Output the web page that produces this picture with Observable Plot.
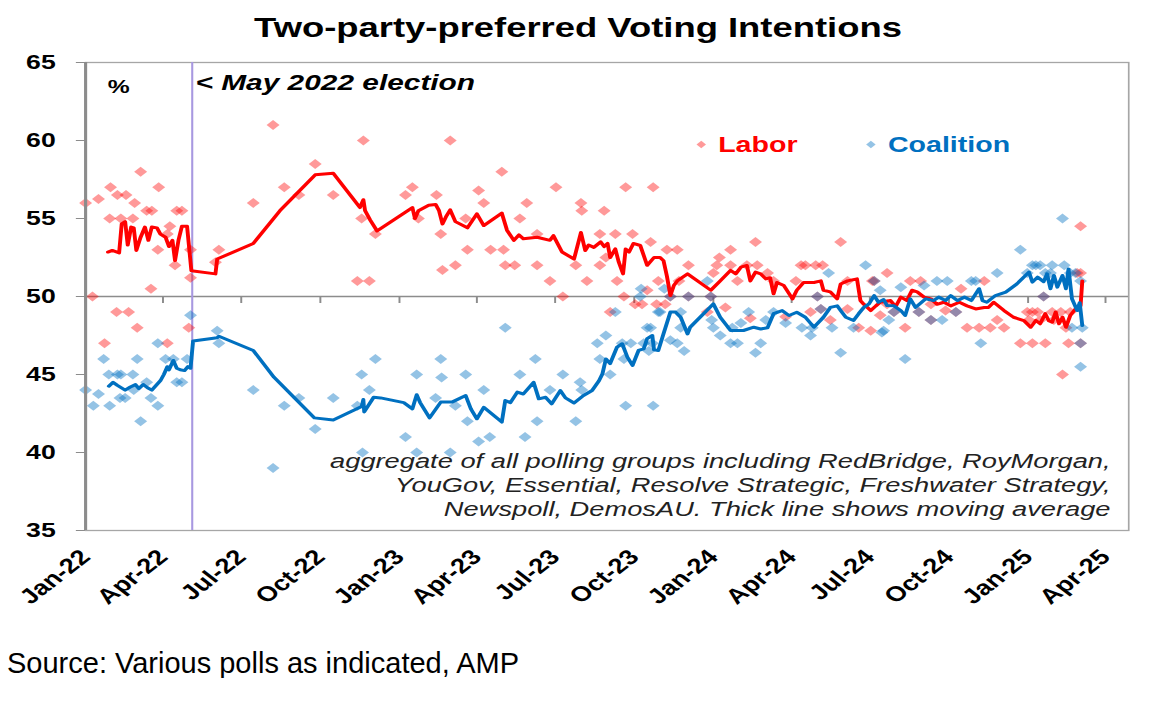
<!DOCTYPE html>
<html>
<head>
<meta charset="utf-8">
<script src="https://cdn.jsdelivr.net/npm/d3@7"></script>
<script src="https://cdn.jsdelivr.net/npm/@observablehq/plot@0.6"></script>
<style>
  body { margin: 0; background: #fff; font-family: "Liberation Sans", Arial, sans-serif; }
  #chart { width: 1156px; }
  #title { height: 40px; padding-top: 6px; line-height: 44px; text-align: center; font-weight: bold; font-size: 28px; transform: scaleX(1.3); }
  #source { font-size: 29px; line-height: 30px; padding-left: 7px; }
</style>
</head>
<body>
<div id="chart">
  <div id="title">Two-party-preferred Voting Intentions</div>
  <div id="plot"></div>
  <div id="source">Source: Various polls as indicated, AMP</div>
</div>
<script>
// axis
const xStart = "2022-01-01";
const xEnd = "2025-04-28";
const xTicks = ["2022-01-01", "2022-04-01", "2022-07-01", "2022-10-01", "2023-01-01", "2023-04-01", "2023-07-01",
  "2023-10-01", "2024-01-01", "2024-04-01", "2024-07-01", "2024-10-01", "2025-01-01", "2025-04-01"];
const yTicks = [35, 40, 45, 50, 55, 60, 65];
const electionDate = "2022-05-05";
const legendNames = ["Labor", "Coalition"];
const noteLines = [
  "aggregate of all polling groups including RedBridge, RoyMorgan,",
  "YouGov, Essential, Resolve Strategic, Freshwater Strategy,",
  "Newspoll, DemosAU. Thick line shows moving average"
];

// moving averages
const laborTrend = [
  ["2022-01-27", 52.85], ["2022-02-01", 52.95], ["2022-02-09", 52.8], ["2022-02-12", 54.65], ["2022-02-16", 54.8],
  ["2022-02-19", 53.3], ["2022-02-23", 54.45], ["2022-02-26", 54.4], ["2022-03-01", 52.95], ["2022-03-06", 53.8],
  ["2022-03-11", 54.45], ["2022-03-15", 53.6], ["2022-03-19", 54.45], ["2022-03-25", 54.4], ["2022-03-29", 54.0],
  ["2022-04-04", 53.8], ["2022-04-08", 53.2], ["2022-04-12", 53.6], ["2022-04-15", 52.3], ["2022-04-19", 53.6],
  ["2022-04-23", 54.5], ["2022-04-29", 54.5], ["2022-05-04", 51.65], ["2022-06-01", 51.45], ["2022-06-03", 52.4],
  ["2022-07-15", 53.4], ["2022-08-15", 55.5], ["2022-09-25", 57.8], ["2022-10-16", 57.9], ["2022-11-16", 55.7],
  ["2022-11-20", 56.2], ["2022-11-22", 55.5], ["2022-11-28", 54.9], ["2022-12-06", 54.2], ["2023-01-16", 55.7],
  ["2023-01-19", 55.0], ["2023-01-23", 55.5], ["2023-02-04", 55.85], ["2023-02-12", 55.9], ["2023-02-16", 55.5],
  ["2023-02-20", 54.65], ["2023-02-24", 55.1], ["2023-03-01", 55.55], ["2023-03-07", 54.8], ["2023-03-21", 54.4],
  ["2023-04-01", 55.3], ["2023-04-09", 54.55], ["2023-04-30", 55.35], ["2023-05-06", 54.25], ["2023-05-14", 53.6],
  ["2023-05-20", 53.95], ["2023-05-25", 53.7], ["2023-06-10", 53.8], ["2023-06-25", 53.6], ["2023-06-29", 53.9],
  ["2023-07-09", 52.85], ["2023-07-23", 52.4], ["2023-07-31", 54.1], ["2023-08-05", 52.95], ["2023-08-09", 53.3],
  ["2023-08-15", 53.15], ["2023-08-23", 53.5], ["2023-08-27", 53.2], ["2023-08-31", 53.4], ["2023-09-03", 52.5],
  ["2023-09-09", 53.05], ["2023-09-13", 52.2], ["2023-09-18", 51.45], ["2023-09-21", 53.05], ["2023-09-25", 52.85],
  ["2023-09-30", 53.4], ["2023-10-08", 53.27], ["2023-10-16", 52.0], ["2023-10-24", 52.5], ["2023-10-31", 52.5],
  ["2023-11-04", 52.3], ["2023-11-08", 51.3], ["2023-11-12", 50.06], ["2023-11-16", 50.7], ["2023-11-20", 51.0],
  ["2023-12-02", 51.45], ["2023-12-29", 50.4], ["2024-01-09", 51.0], ["2024-01-21", 51.67], ["2024-01-27", 51.45],
  ["2024-02-02", 51.88], ["2024-02-09", 51.99], ["2024-02-13", 51.0], ["2024-02-19", 51.56], ["2024-02-25", 51.45],
  ["2024-03-02", 51.13], ["2024-03-07", 51.2], ["2024-03-11", 50.17], ["2024-03-15", 50.9], ["2024-03-23", 50.7],
  ["2024-04-02", 49.85], ["2024-04-07", 50.4], ["2024-04-15", 50.9], ["2024-04-27", 50.9], ["2024-05-05", 51.0],
  ["2024-05-08", 50.4], ["2024-05-16", 50.3], ["2024-05-24", 49.85], ["2024-05-28", 50.8], ["2024-06-05", 51.0],
  ["2024-06-16", 51.13], ["2024-06-20", 49.74], ["2024-06-24", 49.5], ["2024-07-02", 49.1], ["2024-07-08", 49.4],
  ["2024-07-13", 49.63], ["2024-07-25", 49.74], ["2024-07-31", 49.36], ["2024-08-06", 49.96], ["2024-08-13", 49.74],
  ["2024-08-19", 50.4], ["2024-08-25", 50.3], ["2024-09-02", 49.96], ["2024-09-10", 49.85], ["2024-09-17", 49.5],
  ["2024-09-25", 49.63], ["2024-10-03", 49.4], ["2024-10-13", 49.63], ["2024-10-22", 49.4], ["2024-11-01", 49.2],
  ["2024-11-11", 49.3], ["2024-11-16", 49.3], ["2024-11-22", 49.63], ["2024-12-04", 49.1], ["2024-12-15", 48.67],
  ["2024-12-27", 48.46], ["2025-01-04", 48.03], ["2025-01-10", 48.46], ["2025-01-15", 48.25], ["2025-01-21", 48.9],
  ["2025-01-25", 48.45], ["2025-01-29", 48.35], ["2025-02-02", 49.0], ["2025-02-06", 48.25], ["2025-02-10", 48.67],
  ["2025-02-14", 48.03], ["2025-02-19", 48.78], ["2025-02-25", 49.2], ["2025-03-03", 49.4], ["2025-03-05", 51.0]
];
const coalitionTrend = [
  ["2022-01-28", 44.25], ["2022-02-02", 44.5], ["2022-02-07", 44.3], ["2022-02-16", 44.0], ["2022-02-22", 44.2],
  ["2022-02-28", 44.35], ["2022-03-04", 44.1], ["2022-03-09", 44.36], ["2022-03-14", 44.15], ["2022-03-19", 44.0],
  ["2022-03-29", 44.6], ["2022-04-02", 45.0], ["2022-04-06", 45.5], ["2022-04-08", 45.3], ["2022-04-13", 45.9],
  ["2022-04-17", 45.4], ["2022-04-21", 45.3], ["2022-04-26", 45.25], ["2022-04-30", 45.5], ["2022-05-03", 45.4],
  ["2022-05-06", 47.15], ["2022-06-03", 47.35], ["2022-06-05", 47.45], ["2022-07-15", 46.54], ["2022-08-08", 44.83],
  ["2022-09-24", 42.22], ["2022-10-16", 42.08], ["2022-11-18", 42.95], ["2022-11-20", 43.4], ["2022-11-21", 42.6],
  ["2022-12-02", 43.54], ["2022-12-10", 43.5], ["2023-01-06", 43.2], ["2023-01-16", 42.8], ["2023-01-21", 43.7],
  ["2023-01-25", 43.2], ["2023-02-05", 42.22], ["2023-02-18", 43.23], ["2023-03-03", 43.23], ["2023-03-19", 43.65],
  ["2023-03-25", 42.8], ["2023-04-01", 42.16], ["2023-04-09", 42.9], ["2023-04-30", 41.95], ["2023-05-04", 43.33],
  ["2023-05-10", 43.2], ["2023-05-18", 43.87], ["2023-05-25", 43.75], ["2023-06-06", 44.5], ["2023-06-12", 43.44],
  ["2023-06-20", 43.54], ["2023-06-27", 43.12], ["2023-07-07", 43.97], ["2023-07-13", 43.5], ["2023-07-23", 43.17],
  ["2023-08-03", 43.65], ["2023-08-13", 43.97], ["2023-08-21", 44.6], ["2023-08-25", 45.04], ["2023-08-29", 46.0],
  ["2023-09-03", 45.7], ["2023-09-11", 46.76], ["2023-09-17", 46.97], ["2023-09-23", 46.11], ["2023-09-29", 45.58],
  ["2023-10-06", 46.54], ["2023-10-12", 46.65], ["2023-10-16", 47.3], ["2023-10-22", 47.5], ["2023-10-24", 46.58],
  ["2023-10-29", 46.54], ["2023-11-04", 47.6], ["2023-11-12", 49.0], ["2023-11-18", 49.0], ["2023-11-24", 48.67],
  ["2023-12-02", 47.6], ["2023-12-05", 48.03], ["2024-01-01", 49.53], ["2024-01-09", 48.67], ["2024-01-21", 47.82],
  ["2024-02-05", 47.82], ["2024-02-17", 48.03], ["2024-02-25", 47.92], ["2024-03-04", 48.0], ["2024-03-11", 48.9],
  ["2024-03-21", 49.1], ["2024-03-29", 48.78], ["2024-04-07", 48.99], ["2024-04-17", 48.67], ["2024-04-27", 48.03],
  ["2024-05-08", 48.67], ["2024-05-16", 49.3], ["2024-05-24", 49.4], ["2024-05-28", 49.1], ["2024-06-03", 48.67],
  ["2024-06-12", 48.46], ["2024-06-18", 48.9], ["2024-06-24", 49.3], ["2024-06-30", 49.53], ["2024-07-06", 50.06],
  ["2024-07-11", 49.63], ["2024-07-17", 49.8], ["2024-07-21", 49.42], ["2024-07-29", 49.4], ["2024-08-06", 49.1],
  ["2024-08-11", 48.78], ["2024-08-17", 49.85], ["2024-08-23", 49.3], ["2024-09-04", 49.85], ["2024-09-13", 49.74],
  ["2024-09-19", 49.96], ["2024-09-27", 49.74], ["2024-10-03", 50.06], ["2024-10-11", 49.74], ["2024-10-19", 49.96],
  ["2024-10-27", 49.74], ["2024-11-05", 50.5], ["2024-11-09", 49.74], ["2024-11-14", 49.63], ["2024-11-24", 50.06],
  ["2024-12-06", 50.28], ["2024-12-19", 50.81], ["2025-01-02", 51.56], ["2025-01-06", 50.92], ["2025-01-12", 51.24],
  ["2025-01-19", 50.95], ["2025-01-23", 51.45], ["2025-01-27", 50.5], ["2025-01-31", 51.35], ["2025-02-04", 50.6],
  ["2025-02-10", 51.35], ["2025-02-14", 50.5], ["2025-02-17", 51.77], ["2025-02-21", 49.85], ["2025-02-27", 49.1],
  ["2025-03-02", 49.6], ["2025-03-05", 48.14]
];

// individual polls
const laborPolls = [
  ["2022-01-01", 56], ["2022-01-09", 50], ["2022-01-16", 56.25], ["2022-01-23", 47], ["2022-01-29", 55],
  ["2022-01-30", 57], ["2022-02-06", 49], ["2022-02-07", 56.5], ["2022-02-11", 55], ["2022-02-17", 56.5],
  ["2022-02-20", 49], ["2022-02-25", 55], ["2022-02-27", 56], ["2022-03-02", 48], ["2022-03-06", 58],
  ["2022-03-13", 55.5], ["2022-03-18", 50.5], ["2022-03-19", 55.5], ["2022-03-26", 53], ["2022-03-27", 57],
  ["2022-04-06", 54], ["2022-04-06", 47], ["2022-04-09", 54.5], ["2022-04-15", 52], ["2022-04-17", 55.5],
  ["2022-04-23", 55.5], ["2022-05-01", 48], ["2022-05-03", 53], ["2022-05-03", 51.2], ["2022-06-01", 52.2],
  ["2022-06-05", 53], ["2022-07-15", 56], ["2022-08-07", 61], ["2022-08-20", 57], ["2022-09-06", 56.5],
  ["2022-09-25", 58.5], ["2022-10-16", 56.5], ["2022-11-13", 51], ["2022-11-18", 55], ["2022-11-20", 60],
  ["2022-11-27", 51], ["2022-12-04", 54], ["2023-01-08", 56.5], ["2023-01-16", 57], ["2023-01-23", 55],
  ["2023-02-13", 56.5], ["2023-02-18", 54], ["2023-02-20", 51.7], ["2023-03-01", 60], ["2023-03-07", 52],
  ["2023-03-19", 55], ["2023-03-21", 53], ["2023-04-03", 56.8], ["2023-04-09", 56], ["2023-04-17", 53],
  ["2023-04-30", 58], ["2023-05-02", 53], ["2023-05-04", 52], ["2023-05-15", 52], ["2023-05-21", 55],
  ["2023-05-29", 56], ["2023-06-10", 54], ["2023-06-10", 52], ["2023-06-25", 51], ["2023-07-02", 57],
  ["2023-07-10", 50], ["2023-07-25", 52], ["2023-07-31", 56], ["2023-08-01", 55.5], ["2023-08-07", 51],
  ["2023-08-22", 54], ["2023-08-22", 52], ["2023-08-27", 55.5], ["2023-08-29", 52.5], ["2023-09-03", 49],
  ["2023-09-09", 54], ["2023-09-11", 51], ["2023-09-19", 50], ["2023-09-21", 57], ["2023-09-29", 54],
  ["2023-10-02", 49.5], ["2023-10-10", 49.5], ["2023-10-16", 50.4], ["2023-10-20", 53.5], ["2023-10-23", 57],
  ["2023-10-27", 49.5], ["2023-10-29", 51], ["2023-11-06", 49.5], ["2023-11-08", 53], ["2023-11-12", 50],
  ["2023-11-20", 53], ["2023-11-22", 51], ["2023-12-03", 52], ["2023-12-03", 50], ["2023-12-25", 49],
  ["2023-12-29", 50], ["2024-01-01", 51.5], ["2024-01-05", 52], ["2024-01-08", 52.5], ["2024-01-15", 49.3],
  ["2024-01-21", 53], ["2024-01-21", 52], ["2024-01-29", 51], ["2024-02-09", 52], ["2024-02-13", 48.6],
  ["2024-02-19", 53.5], ["2024-02-21", 52], ["2024-03-04", 51.5], ["2024-03-11", 51], ["2024-03-25", 48.7],
  ["2024-04-06", 51], ["2024-04-12", 52], ["2024-04-17", 52], ["2024-04-23", 49], ["2024-04-29", 52],
  ["2024-05-01", 50], ["2024-05-05", 49.2], ["2024-05-07", 52], ["2024-05-16", 48.5], ["2024-05-28", 53.5],
  ["2024-06-05", 51], ["2024-06-05", 49.2], ["2024-06-18", 48], ["2024-07-02", 47.8], ["2024-07-04", 51],
  ["2024-07-06", 51], ["2024-07-13", 48.8], ["2024-07-21", 51.5], ["2024-07-21", 49.5], ["2024-07-29", 49],
  ["2024-08-11", 48], ["2024-08-17", 51], ["2024-08-27", 49], ["2024-08-29", 51], ["2024-09-10", 49.5],
  ["2024-09-10", 48.5], ["2024-09-27", 49.1], ["2024-10-09", 49], ["2024-10-15", 50.5], ["2024-10-22", 48],
  ["2024-11-05", 48], ["2024-11-11", 51], ["2024-11-18", 48], ["2024-11-26", 48.5], ["2024-12-04", 48],
  ["2024-12-23", 47], ["2024-12-31", 49], ["2025-01-02", 48.5], ["2025-01-06", 49], ["2025-01-06", 47],
  ["2025-01-12", 49], ["2025-01-15", 48.5], ["2025-01-19", 50], ["2025-01-21", 47], ["2025-01-29", 49],
  ["2025-01-31", 48.5], ["2025-02-08", 49], ["2025-02-10", 45], ["2025-02-14", 48], ["2025-02-17", 47],
  ["2025-02-19", 49], ["2025-02-27", 51.5], ["2025-03-03", 54.5], ["2025-03-03", 51.5], ["2025-03-03", 47]
];
const coalitionPolls = [
  ["2022-01-01", 44], ["2022-01-10", 43], ["2022-01-16", 43.75], ["2022-01-22", 46], ["2022-01-28", 45],
  ["2022-01-29", 43], ["2022-02-07", 45], ["2022-02-10", 43.5], ["2022-02-11", 45], ["2022-02-16", 43.5],
  ["2022-02-25", 45], ["2022-02-26", 44], ["2022-03-02", 46], ["2022-03-06", 42], ["2022-03-13", 44.5],
  ["2022-03-18", 43.5], ["2022-03-26", 47], ["2022-03-26", 43], ["2022-04-04", 46], ["2022-04-13", 46],
  ["2022-04-17", 44.5], ["2022-04-23", 44.5], ["2022-04-29", 46], ["2022-05-03", 48.8], ["2022-06-03", 47.8],
  ["2022-06-05", 47], ["2022-07-15", 44], ["2022-08-07", 39], ["2022-08-20", 43], ["2022-09-06", 43.5],
  ["2022-09-25", 41.5], ["2022-10-16", 43.5], ["2022-11-13", 43], ["2022-11-18", 45], ["2022-11-19", 40],
  ["2022-11-27", 44], ["2022-12-04", 46], ["2023-01-08", 41], ["2023-01-21", 45], ["2023-01-21", 40],
  ["2023-02-12", 43.5], ["2023-02-18", 46], ["2023-02-19", 44.8], ["2023-03-01", 40], ["2023-03-07", 43],
  ["2023-03-19", 45], ["2023-03-21", 42], ["2023-04-03", 40.7], ["2023-04-09", 44], ["2023-04-16", 41],
  ["2023-05-04", 48], ["2023-05-21", 45], ["2023-05-27", 41], ["2023-06-08", 46], ["2023-06-10", 42],
  ["2023-06-25", 44], ["2023-07-10", 45], ["2023-07-25", 42], ["2023-07-30", 44.5], ["2023-08-01", 44],
  ["2023-08-19", 47], ["2023-08-22", 46], ["2023-08-29", 47.5], ["2023-09-03", 45], ["2023-09-09", 49],
  ["2023-09-17", 47], ["2023-09-19", 46], ["2023-09-21", 43], ["2023-09-27", 47], ["2023-10-08", 50],
  ["2023-10-09", 50.5], ["2023-10-12", 47], ["2023-10-16", 48], ["2023-10-18", 46.5], ["2023-10-20", 48],
  ["2023-10-22", 47], ["2023-10-23", 43], ["2023-10-29", 49], ["2023-10-31", 49], ["2023-11-05", 50.5],
  ["2023-11-12", 50], ["2023-11-12", 47.2], ["2023-11-20", 47], ["2023-11-24", 49], ["2023-11-24", 48],
  ["2023-11-28", 46.5], ["2023-12-03", 50], ["2023-12-25", 51], ["2023-12-29", 50], ["2023-12-30", 48.5],
  ["2024-01-01", 48], ["2024-01-09", 47.5], ["2024-01-21", 47], ["2024-01-23", 48], ["2024-01-29", 47],
  ["2024-02-02", 48.3], ["2024-02-11", 49], ["2024-02-19", 46.4], ["2024-02-25", 47], ["2024-03-02", 48.5],
  ["2024-03-11", 49], ["2024-03-25", 48.3], ["2024-04-13", 48], ["2024-04-23", 47.5], ["2024-04-25", 48],
  ["2024-05-01", 50], ["2024-05-05", 49.2], ["2024-05-14", 51.5], ["2024-05-18", 48], ["2024-05-28", 46.4],
  ["2024-06-12", 48], ["2024-06-26", 52], ["2024-07-06", 51], ["2024-07-13", 50.4], ["2024-07-15", 47.7],
  ["2024-07-17", 47.8], ["2024-07-23", 48.5], ["2024-07-29", 49], ["2024-08-06", 50.6], ["2024-08-11", 46],
  ["2024-08-27", 49], ["2024-09-02", 50.7], ["2024-09-10", 48.5], ["2024-09-17", 51], ["2024-09-23", 48.5],
  ["2024-09-29", 51], ["2024-10-09", 49], ["2024-10-27", 51], ["2024-11-01", 51], ["2024-11-07", 47],
  ["2024-11-26", 51.5], ["2024-12-23", 53], ["2024-12-31", 51.5], ["2025-01-06", 52], ["2025-01-10", 52],
  ["2025-01-15", 52], ["2025-01-19", 50], ["2025-01-21", 51.5], ["2025-01-27", 51.5], ["2025-01-29", 52],
  ["2025-02-10", 55], ["2025-02-12", 52], ["2025-02-19", 51.5], ["2025-02-21", 48], ["2025-02-25", 51.5],
  ["2025-03-03", 51], ["2025-03-03", 47], ["2025-03-03", 45.5], ["2025-03-05", 48]
];

const K = 1156 / 890; // the reference picture is stretched sideways
const parse = d3.utcParse("%Y-%m-%d");
const rows = pairs => pairs.map(([d, v]) => ({date: parse(d), value: v}));

const red = "#ff0000";
const blue = "#0070c0";
const grey = "#8c8c8c";

const svg = Plot.plot({
  width: 890,
  height: 602,
  marginLeft: 65.4,
  marginRight: 21.5,
  marginTop: 16,
  marginBottom: 118,
  style: {fontFamily: "'Liberation Sans', Arial, sans-serif", background: "#fff", color: "#000"},
  x: {type: "utc", domain: [parse(xStart), parse(xEnd)], label: null},
  y: {domain: [35, 65], label: null},
  marks: [
    Plot.frame({stroke: "#a6a6a6", strokeWidth: 1.3}),
    Plot.ruleY([50], {stroke: grey, strokeWidth: 1.5}),
    Plot.ruleX(xTicks, {x: d => parse(d), y1: 50, y2: 49.55, stroke: grey, strokeWidth: 1.5}),
    Plot.ruleX([electionDate], {x: d => parse(d), stroke: "#a898e0", strokeWidth: 1.6}),
    Plot.dot(rows(laborPolls), {x: "date", y: "value", symbol: "diamond2", r: 4.5, fill: red, fillOpacity: 0.4}),
    Plot.dot(rows(coalitionPolls), {x: "date", y: "value", symbol: "diamond2", r: 4.5, fill: blue, fillOpacity: 0.42}),
    Plot.line(rows(laborTrend), {x: "date", y: "value", stroke: red, strokeWidth: 3}),
    Plot.line(rows(coalitionTrend), {x: "date", y: "value", stroke: blue, strokeWidth: 3}),
    Plot.ruleX([xStart], {x: d => parse(d), stroke: grey, strokeWidth: 2.4}),
    Plot.axisY(yTicks, {tickSize: 7, tickPadding: 16, stroke: grey, fontSize: 20.5, fontWeight: "bold"}),
    Plot.axisX(xTicks.map(parse), {
      anchor: "bottom", tickSize: 0, tickPadding: 23, tickRotate: -45,
      tickFormat: d3.utcFormat("%b-%y"), fontSize: 21, fontWeight: "bold"
    }),
    Plot.text(["%"], {frameAnchor: "top-left", dx: 17, dy: 24, textAnchor: "start", lineAnchor: "middle", fontSize: 19, fontWeight: "bold"}),
    Plot.text([electionDate], {
      x: d => parse(d), frameAnchor: "top", dx: 2.5, dy: 20, textAnchor: "start", lineAnchor: "middle",
      text: () => "< May 2022 election", fontSize: 23, fontWeight: "bold", fontStyle: "italic"
    }),
    Plot.dot([legendNames[0]], {frameAnchor: "top-left", dx: 474, dy: 82, symbol: "diamond2", r: 3.3, fill: red, fillOpacity: 0.4}),
    Plot.text([legendNames[0]], {frameAnchor: "top-left", dx: 487, dy: 82, textAnchor: "start", lineAnchor: "middle", fill: red, fontSize: 22, fontWeight: "bold"}),
    Plot.dot([legendNames[1]], {frameAnchor: "top-left", dx: 604.6, dy: 82, symbol: "diamond2", r: 3.3, fill: blue, fillOpacity: 0.42}),
    Plot.text([legendNames[1]], {frameAnchor: "top-left", dx: 617.7, dy: 82, textAnchor: "start", lineAnchor: "middle", fill: blue, fontSize: 22, fontWeight: "bold"}),
    Plot.text([noteLines.join("\n")], {
      frameAnchor: "bottom-right", dx: -14, dy: -15, textAnchor: "end", lineAnchor: "bottom",
      lineHeight: 1.12, fontSize: 21, fontStyle: "italic", fill: "#222"
    })
  ]
});

// stretch the drawing horizontally like the reference image
svg.setAttribute("width", 1156);
svg.setAttribute("preserveAspectRatio", "none");
svg.style.width = "1156px";
svg.style.height = "602px";
svg.style.maxWidth = "none";

document.getElementById("plot").appendChild(svg);
</script>
</body>
</html>
